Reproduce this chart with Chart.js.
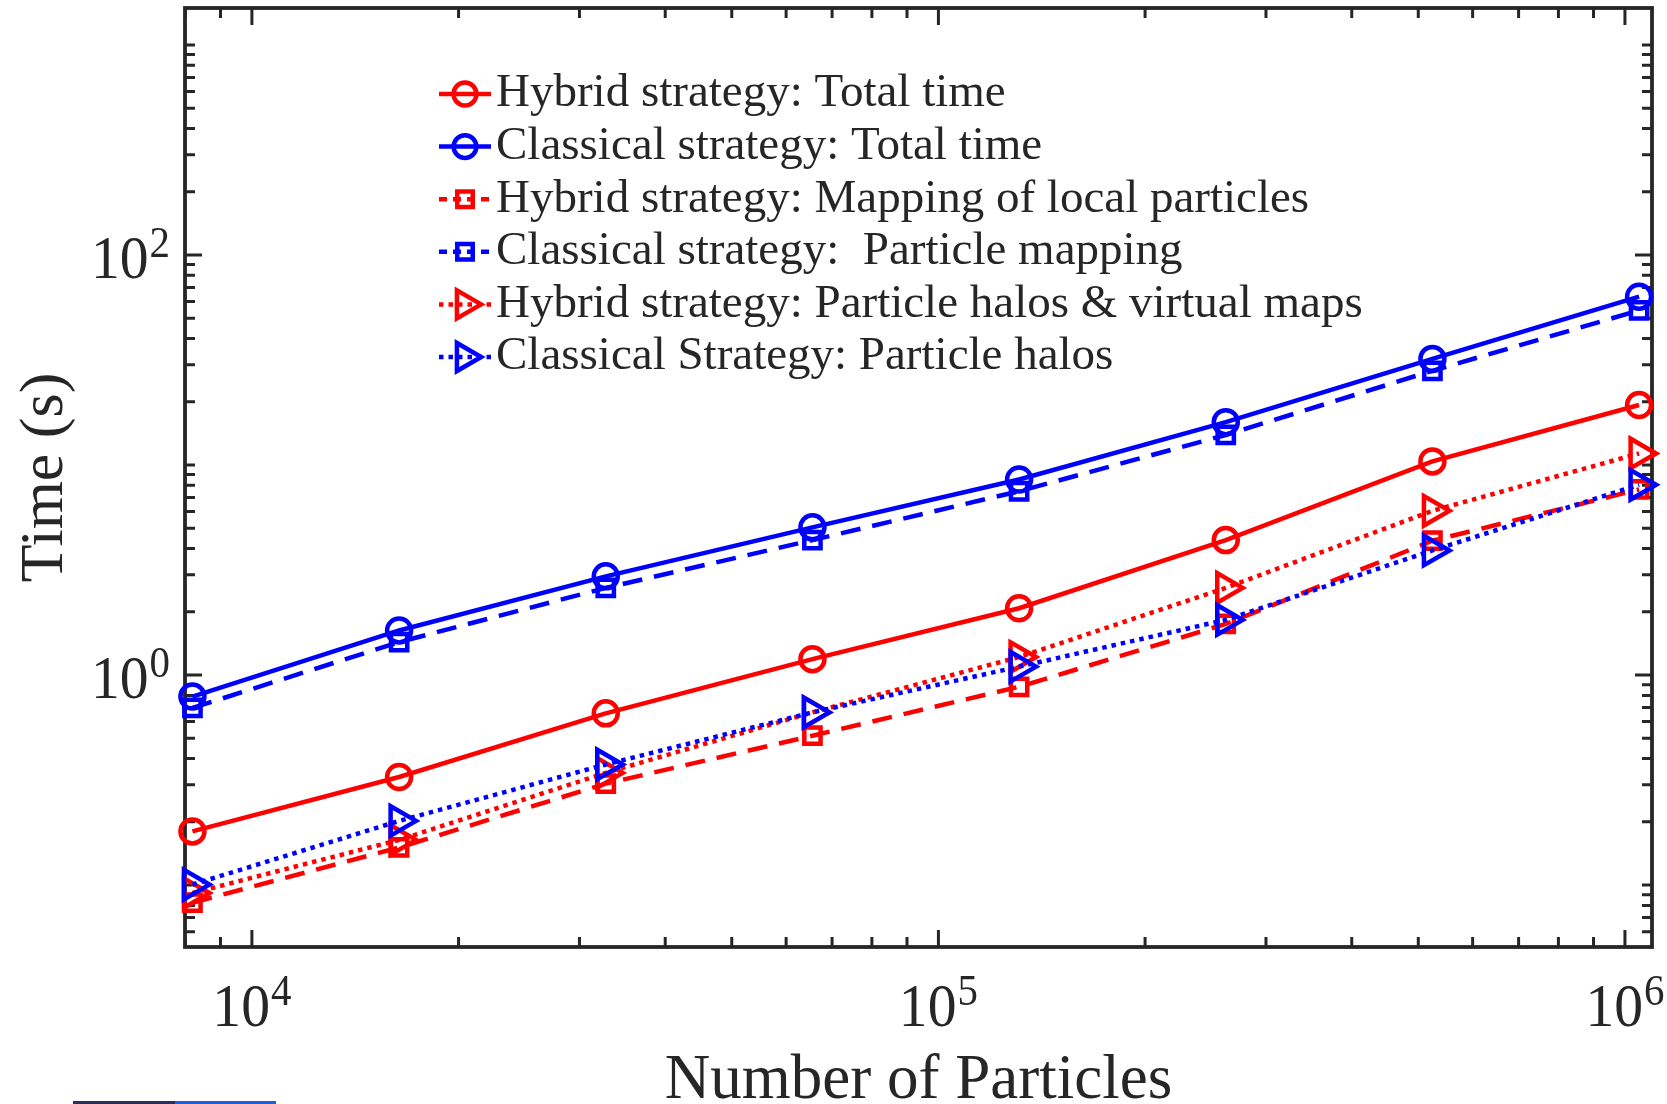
<!DOCTYPE html>
<html>
<head>
<meta charset="utf-8">
<title>Time vs Number of Particles</title>
<script src="https://cdn.jsdelivr.net/npm/chart.js@4.4.1/dist/chart.umd.min.js"></script>
<style>
  html,body{margin:0;padding:0;background:#fff;}
  #wrap{position:relative;width:1667px;height:1104px;}
  .strip{position:absolute;bottom:0;height:3px;}
</style>
</head>
<body>
<div id="wrap">
  <canvas id="chart"></canvas>
  <div class="strip" style="left:73px;width:102px;background:#2b2d5c"></div>
  <div class="strip" style="left:175px;width:101px;background:#1f5fe0"></div>
</div>
<script>
// data (sekunder)
const particles = [8192, 16384, 32768, 65536, 131072, 262144, 524288, 1048576];
const hybridTotal      = [0.18, 0.327, 0.657, 1.19, 2.08, 4.39, 10.4, 19.3];
const classicalTotal   = [0.79, 1.63, 2.95, 5.05, 8.53, 16.0, 32.0, 63.3];
const hybridMapping    = [0.0824, 0.151, 0.304, 0.514, 0.879, 1.75, 4.36, 7.65];
const classicalMapping = [0.697, 1.435, 2.60, 4.39, 7.50, 13.9, 28.1, 54.5];
const hybridHalos      = [0.0916, 0.164, 0.342, 0.664, 1.218, 2.60, 6.05, 11.35];
const classicalHalos   = [0.1005, 0.202, 0.375, 0.664, 1.096, 1.83, 3.92, 8.05];

const seriesNames = [
  "Hybrid strategy: Total time",
  "Classical strategy: Total time",
  "Hybrid strategy: Mapping of local particles",
  "Classical strategy:  Particle mapping",
  "Hybrid strategy: Particle halos & virtual maps",
  "Classical Strategy: Particle halos"
];

// tick labels (eksponenter som vises som 10^n)
const xLabelExps = [4, 5, 6];
const yLabelExps = [0, 2];

const FONT = '"Liberation Serif", "Times New Roman", serif';
const INK = "#262626";
const RED = "#ff0000", BLUE = "#0000ff";
const DASH = [20, 12], DOT = [4.5, 5];

function serie(i, values, color, dash, style, r){
  return {
    label: seriesNames[i],
    data: particles.map((p, k) => ({x: p, y: values[k]})),
    borderColor: color, borderWidth: 4.5, borderDash: dash, borderCapStyle: "butt",
    pointStyle: style, pointRadius: r, pointHoverRadius: r, pointBorderWidth: 4.5,
    pointBorderColor: color, pointBackgroundColor: "rgba(0,0,0,0)",
    pointRotation: style === "triangle" ? 90 : 0,
    tension: 0, fill: false, clip: false, order: 6 - i
  };
}

const datasets = [
  serie(0, hybridTotal, RED, [], "circle", 12),
  serie(1, classicalTotal, BLUE, [], "circle", 12),
  serie(2, hybridMapping, RED, DASH, "rect", 11.5),
  serie(3, classicalMapping, BLUE, DASH, "rect", 11.5),
  serie(4, hybridHalos, RED, DOT, "triangle", 17),
  serie(5, classicalHalos, BLUE, DOT, "triangle", 17)
];

// skriver "10" med hevet eksponent, litt smal skrift som i originalen
function drawPow(ctx, exp, x, cy, align){
  const big = 62, small = 44, sx = 0.93;
  ctx.font = big + "px " + FONT;
  const w1 = ctx.measureText("10").width * sx;
  ctx.font = small + "px " + FONT;
  const w2 = ctx.measureText(String(exp)).width * sx;
  const total = w1 + 1 + w2;
  const left = align === "center" ? x - total / 2 : x - total;
  const base = cy + 0.34 * big;
  ctx.save();
  ctx.translate(left, base);
  ctx.scale(sx, 1);
  ctx.fillStyle = INK;
  ctx.textAlign = "left";
  ctx.textBaseline = "alphabetic";
  ctx.font = big + "px " + FONT;
  ctx.fillText("10", 0, 0);
  ctx.font = small + "px " + FONT;
  ctx.fillText(String(exp), (w1 + 1) / sx, -0.34 * big);
  ctx.restore();
}

// ramme, innoverrettede ticks og tick-tekst (MATLAB-stil)
const boxPlugin = {
  id: "box",
  beforeDatasetsDraw(chart){
    const {ctx, chartArea: a, scales: {x, y}} = chart;
    ctx.save();
    ctx.strokeStyle = INK;
    ctx.lineWidth = 3;
    ctx.beginPath();
    const decades = (s) => {
      const out = [];
      for(let d = Math.floor(Math.log10(s.min)); d <= Math.ceil(Math.log10(s.max)); d++){
        for(let k = 1; k <= 9; k++){
          const v = k * Math.pow(10, d);
          if(v > s.min && v < s.max) out.push({v, k, d});
        }
      }
      return out;
    };
    decades(x).forEach(t => {
      const px = x.getPixelForValue(t.v);
      const len = (t.k === 1 && xLabelExps.includes(t.d)) ? 17 : 10;
      ctx.moveTo(px, a.bottom); ctx.lineTo(px, a.bottom - len);
      ctx.moveTo(px, a.top); ctx.lineTo(px, a.top + len);
    });
    decades(y).forEach(t => {
      const py = y.getPixelForValue(t.v);
      const len = (t.k === 1 && yLabelExps.includes(t.d)) ? 17 : 10;
      ctx.moveTo(a.left, py); ctx.lineTo(a.left + len, py);
      ctx.moveTo(a.right, py); ctx.lineTo(a.right - len, py);
    });
    ctx.stroke();
    ctx.lineWidth = 3.8;
    ctx.strokeRect(a.left, a.top, a.right - a.left, a.bottom - a.top);
    ctx.restore();

    xLabelExps.forEach(e => drawPow(ctx, e, x.getPixelForValue(Math.pow(10, e)), a.bottom + 58, "center"));
    yLabelExps.forEach(e => drawPow(ctx, e, a.left - 15, y.getPixelForValue(Math.pow(10, e)) + 2, "right"));
  }
};

// legende med linje + markør
const legendPlugin = {
  id: "matlabLegend",
  afterDatasetsDraw(chart){
    const ctx = chart.ctx;
    const x0 = 439, x1 = 491, tx = 496, y0 = 94, dy = 52.6;
    ctx.save();
    chart.data.datasets.forEach((ds, i) => {
      const yy = y0 + i * dy;
      ctx.strokeStyle = ds.borderColor;
      ctx.lineWidth = 4.5;
      ctx.lineCap = "butt";
      ctx.setLineDash(ds.borderDash === DOT ? [4.5, 5] : ds.borderDash.length ? [8, 6] : []);
      ctx.beginPath(); ctx.moveTo(x0, yy); ctx.lineTo(x1, yy); ctx.stroke();
      ctx.setLineDash([]);
      ctx.fillStyle = "rgba(0,0,0,0)";
      Chart.helpers.drawPoint(ctx, {
        pointStyle: ds.pointStyle, rotation: ds.pointRotation,
        radius: ds.pointRadius * 0.95, borderWidth: 4.5
      }, (x0 + x1) / 2, yy);
      ctx.fillStyle = INK;
      ctx.font = "47px " + FONT;
      ctx.textBaseline = "middle";
      ctx.textAlign = "left";
      ctx.fillText(ds.label, tx, yy);
    });
    ctx.restore();
  }
};

function noPad(s){
  s.paddingLeft = 0; s.paddingRight = 0; s.paddingTop = 0; s.paddingBottom = 0;
}

new Chart(document.getElementById("chart"), {
  type: "line",
  data: {datasets},
  options: {
    responsive: true, maintainAspectRatio: false, animation: false, devicePixelRatio: 1,
    layout: {autoPadding: false, padding: {left: 0, right: 15, top: 8, bottom: 0}},
    plugins: {legend: {display: false}, tooltip: {enabled: false}},
    scales: {
      x: {
        type: "logarithmic", position: "bottom", min: 7990, max: 1.095e6,
        grid: {display: false, drawTicks: false}, border: {display: false},
        ticks: {display: false},
        title: {display: true, text: "Number of Particles", color: INK, padding: 0,
          font: {size: 63, family: FONT, lineHeight: 0.72}},
        afterFit(s){ s.height = 157; noPad(s); }
      },
      y: {
        type: "logarithmic", position: "left", min: 0.0507, max: 1500,
        grid: {display: false, drawTicks: false}, border: {display: false},
        ticks: {display: false},
        title: {display: true, text: "Time (s)", color: INK, padding: {top: 15, bottom: 0},
          font: {size: 62, family: FONT, lineHeight: 1}},
        afterFit(s){ s.width = 185; noPad(s); }
      }
    }
  },
  plugins: [boxPlugin, legendPlugin]
});
</script>
</body>
</html>
